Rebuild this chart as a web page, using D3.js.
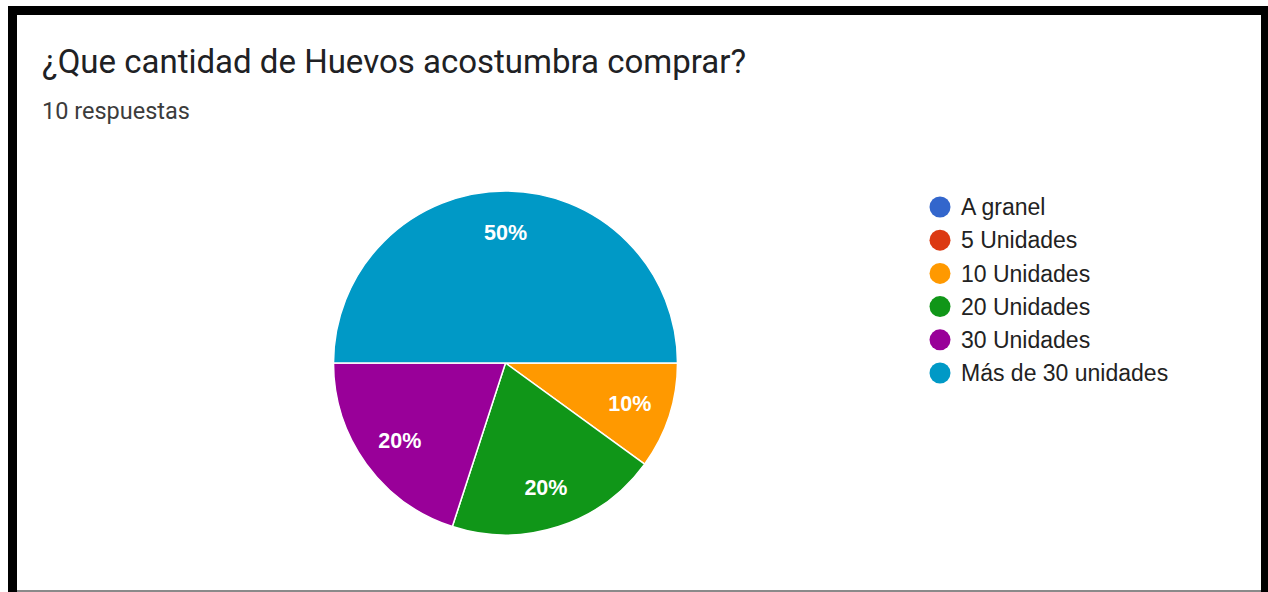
<!DOCTYPE html>
<html>
<head>
<meta charset="utf-8">
<script src="https://cdn.jsdelivr.net/npm/d3@7"></script>
<style>
  html, body { margin: 0; padding: 0; background: #fff; }
  svg { display: block; }
</style>
</head>
<body>
<svg id="chart" width="1268" height="592"></svg>
<script>
// Survey answers: how many eggs people usually buy
const categories = ["A granel", "5 Unidades", "10 Unidades", "20 Unidades", "30 Unidades", "Más de 30 unidades"];
const counts = [0, 0, 1, 2, 2, 5];
const colors = ["#3366cc", "#dc3912", "#ff9900", "#109618", "#990099", "#0099c6"];
const title = "¿Que cantidad de Huevos acostumbra comprar?";
const subtitle = "10 respuestas";

const svg = d3.select("#chart");
const W = 1268, H = 592;

svg.append("rect").attr("width", W).attr("height", H).attr("fill", "#fff");

// Frame
const frame = svg.append("g");
frame.append("rect").attr("x", 8).attr("y", 6).attr("width", W - 8).attr("height", 9).attr("fill", "#000");
frame.append("rect").attr("x", 8).attr("y", 6).attr("width", 9).attr("height", H - 6).attr("fill", "#000");
frame.append("rect").attr("x", 1261).attr("y", 6).attr("width", 7).attr("height", H - 6).attr("fill", "#000");
frame.append("rect").attr("x", 17).attr("y", 590).attr("width", 1244).attr("height", 2).attr("fill", "#8a8a8a");

// Heading
svg.append("text")
  .attr("x", 42).attr("y", 73)
  .attr("font-family", "Roboto, Arial, sans-serif")
  .attr("font-size", 33)
  .attr("fill", "#202124")
  .text(title);

svg.append("text")
  .attr("x", 42).attr("y", 119)
  .attr("font-family", "Roboto, Arial, sans-serif")
  .attr("font-size", 23.5)
  .attr("fill", "#3c3c3c")
  .text(subtitle);

// Pie
const cx = 505.5, cy = 363, R = 172;
const total = d3.sum(counts);
const data = categories.map((c, i) => ({ name: c, value: counts[i], color: colors[i] }));

const pie = d3.pie()
  .value(d => d.value)
  .sort(null)
  .startAngle(Math.PI / 2)
  .endAngle(Math.PI / 2 + 2 * Math.PI);

const arcs = pie(data).filter(a => a.data.value > 0);
const arc = d3.arc().innerRadius(0).outerRadius(R);
const labelArc = d3.arc().innerRadius(R * 0.76).outerRadius(R * 0.76);

const g = svg.append("g").attr("transform", `translate(${cx},${cy})`);
g.selectAll("path")
  .data(arcs)
  .join("path")
  .attr("d", arc)
  .attr("fill", d => d.data.color)
  .attr("stroke", "#fff")
  .attr("stroke-width", 1.5)
  .attr("stroke-linejoin", "round");

const pct = d3.format(".0%");
g.selectAll("text.lbl")
  .data(arcs)
  .join("text")
  .attr("class", "lbl")
  .attr("transform", d => `translate(${labelArc.centroid(d)})`)
  .attr("text-anchor", "middle")
  .attr("dy", "0.36em")
  .attr("font-family", "Arial, 'Liberation Sans', sans-serif")
  .attr("font-size", 21.5)
  .attr("font-weight", "bold")
  .attr("fill", "#fff")
  .text(d => pct(d.data.value / total));

// Legend
const legendY = d3.scalePoint().domain(categories).range([207, 373]);
const legend = svg.append("g");
const items = legend.selectAll("g")
  .data(data)
  .join("g")
  .attr("transform", d => `translate(0,${legendY(d.name)})`);
items.append("circle")
  .attr("cx", 940).attr("cy", 0).attr("r", 10.5)
  .attr("fill", d => d.color);
items.append("text")
  .attr("x", 961).attr("y", 0).attr("dy", "0.36em")
  .attr("font-family", "Arial, 'Liberation Sans', sans-serif")
  .attr("font-size", 23)
  .attr("fill", "#222")
  .text(d => d.name);
</script>
</body>
</html>
